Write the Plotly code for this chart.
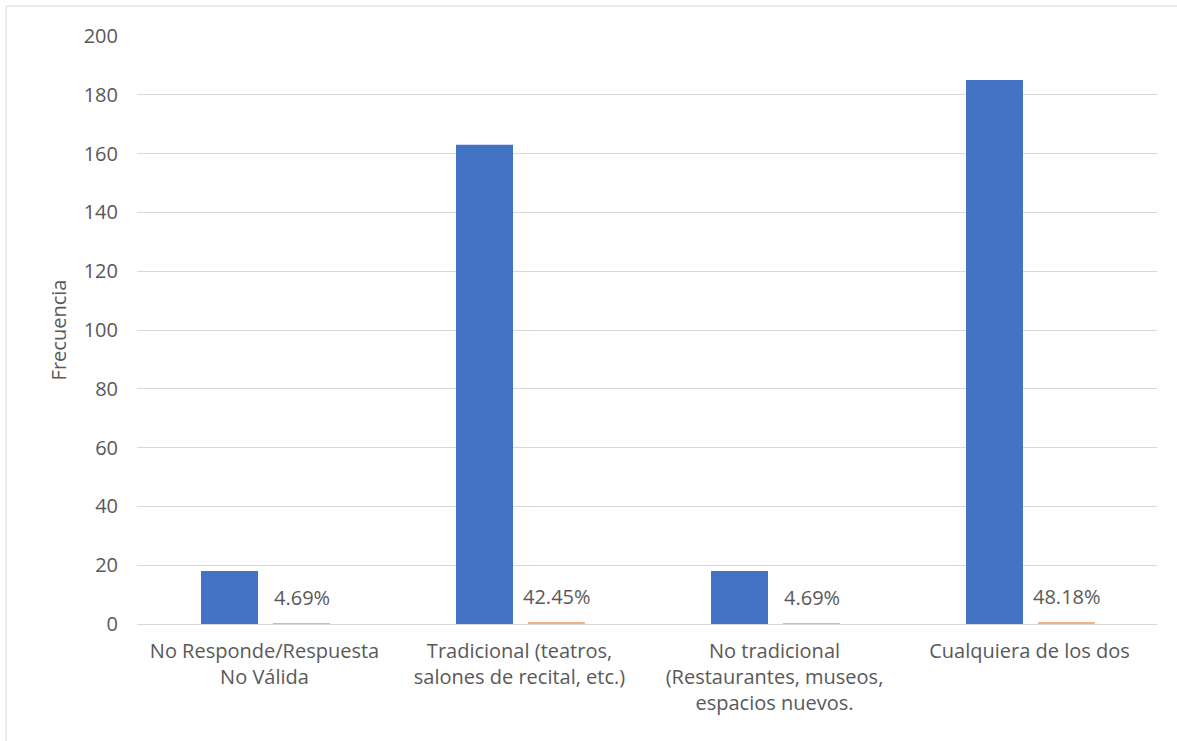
import plotly.graph_objects as go

categories = [
    "No Responde/Respuesta<br>No Válida",
    "Tradicional (teatros,<br>salones de recital, etc.)",
    "No tradicional<br>(Restaurantes, museos,<br>espacios nuevos.",
    "Cualquiera de los dos",
]
frecuencia = [18, 163, 18, 185]
porcentaje = [0.0469, 0.4245, 0.0469, 0.4818]
porcentaje_labels = ["4.69%", "42.45%", "4.69%", "48.18%"]
y_ticks = [0, 20, 40, 60, 80, 100, 120, 140, 160, 180, 200]

FONT = "'Open Sans', sans-serif"
TXT = "#595959"

fig = go.Figure()
fig.add_trace(go.Bar(
    x=categories, y=frecuencia, name="Frecuencia",
    marker=dict(color="#4472C4", line=dict(width=0)),
    width=0.2235, offset=-0.249, hoverinfo="y",
))
fig.add_trace(go.Bar(
    x=categories, y=porcentaje, name="Porcentaje",
    marker=dict(color="#F4B183", line=dict(width=0)),
    width=0.2235, offset=0.033, cliponaxis=False,
))
for cat, val, lab in zip(categories, porcentaje, porcentaje_labels):
    fig.add_annotation(
        x=cat, y=val, text=lab, showarrow=False,
        xshift=37, yshift=11, yanchor="bottom",
        font=dict(family=FONT, size=20, color=TXT),
    )

fig.update_layout(
    width=1177, height=741,
    margin=dict(l=137, r=20, t=36, b=117),
    paper_bgcolor="white", plot_bgcolor="white",
    showlegend=False,
    font=dict(family=FONT, size=20, color=TXT),
    bargap=0.5,
    xaxis=dict(
        showline=True, linecolor="#D9D9D9", linewidth=1,
        showgrid=False, ticks="", tickfont=dict(size=20, color=TXT),
        ticklabelstandoff=9,
    ),
    yaxis=dict(
        range=[0, 200], tickvals=y_ticks,
        showgrid=True, gridcolor="#D9D9D9", gridwidth=1,
        zeroline=False, showline=False, ticks="",
        tickfont=dict(size=20, color=TXT), ticklabelstandoff=18,
        title=dict(text="Frecuencia", font=dict(size=20, color=TXT), standoff=11),
    ),
)
fig.add_shape(
    type="rect", xref="paper", yref="paper",
    x0=(6 - 137) / 1020, x1=1.2, y0=-0.5, y1=1 + 30 / 588,
    line=dict(color="#D9D9D9", width=1), fillcolor="rgba(0,0,0,0)", layer="below",
)
fig.write_html("out.html")
